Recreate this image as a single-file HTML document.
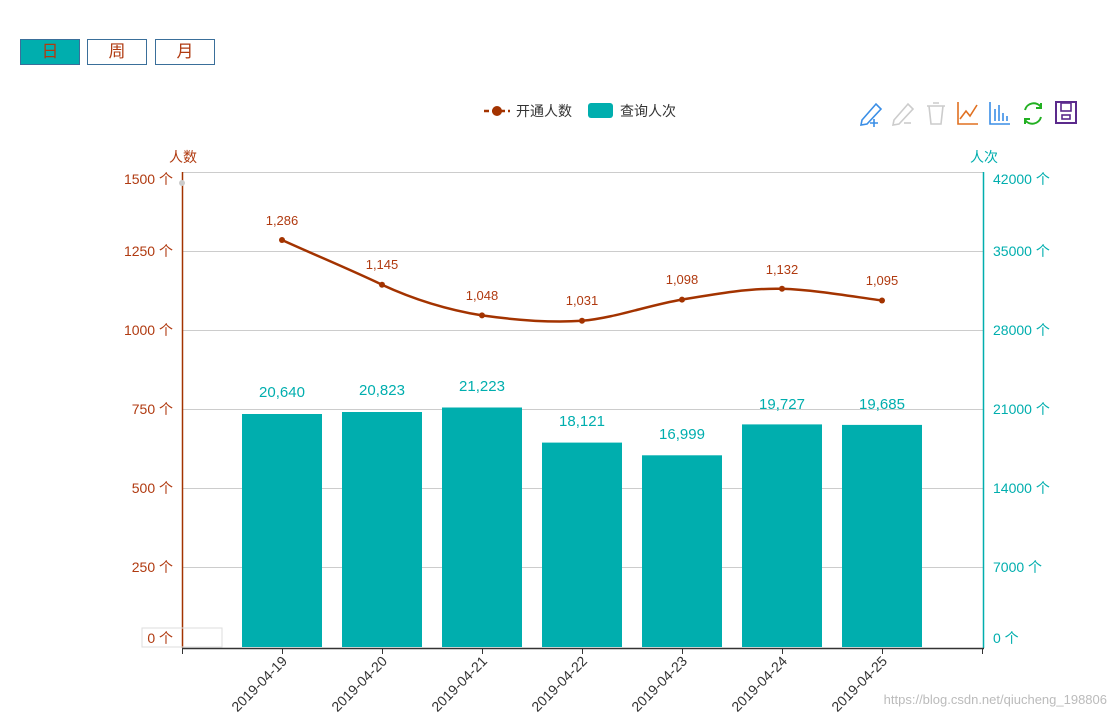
<!DOCTYPE html>
<html><head><meta charset="utf-8"><style>
body{margin:0;background:#fff;width:1117px;height:718px;overflow:hidden;font-family:"Liberation Sans","Noto Sans CJK SC",sans-serif}
.b{position:absolute;top:39px;width:60px;height:26px;border:1px solid #3a6f9a;box-sizing:border-box;color:#b03a10;text-align:center;line-height:24px;font-size:17px}
</style></head><body>
<div class="b" style="left:20px;background:#00aeae">日</div>
<div class="b" style="left:87px">周</div>
<div class="b" style="left:155px">月</div>
<svg width="1117" height="718" style="position:absolute;left:0;top:0" font-family="Liberation Sans, Noto Sans CJK SC, sans-serif">
<line x1="484" y1="111" x2="510" y2="111" stroke="#a33300" stroke-width="2.5" stroke-dasharray="5,3"/>
<circle cx="497" cy="111" r="5" fill="#a33300"/>
<text x="516" y="116" font-size="14" fill="#333">开通人数</text>
<rect x="588" y="103" width="25" height="15" rx="3" fill="#00aeae"/>
<text x="620" y="116" font-size="14" fill="#333">查询人次</text>
<g fill="none" stroke-width="1.6">
<path d="M862 120 L876 104 L881 109 L867 124 L861 125 Z" stroke="#3a8ee6"/><path d="M874 119v8M870 123h8" stroke="#3a8ee6"/>
<path d="M894 120 L908 104 L913 109 L899 124 L893 125 Z" stroke="#ccc"/><path d="M904 123h7" stroke="#ccc"/>
<path d="M927 106h18M933 103h6M929 106l2 18h10l2-18" stroke="#ccc"/>
<path d="M958 102v22h20M960 119l6-8 4 5 7-11" stroke="#e07020"/>
<path d="M990 102v22h20M995 121v-12M999 121v-16M1003 121v-8M1007 121v-5" stroke="#3a8ee6"/>
<path d="M1025 110a9 9 0 0 1 16-3M1041 117a9 9 0 0 1-16 3M1041 103v5h-5M1025 124v-5h5" stroke="#22b022" stroke-width="2"/>
<rect x="1056" y="102" width="20" height="21" stroke="#5b2a8c" stroke-width="2"/><rect x="1061" y="103" width="10" height="8" stroke="#5b2a8c"/><rect x="1062" y="115" width="8" height="4" stroke="#5b2a8c"/>
</g>
<g stroke="#ccc" stroke-width="1">
<line x1="182" y1="172.5" x2="983" y2="172.5"/><line x1="182" y1="251.5" x2="983" y2="251.5"/><line x1="182" y1="330.5" x2="983" y2="330.5"/><line x1="182" y1="409.5" x2="983" y2="409.5"/><line x1="182" y1="488.5" x2="983" y2="488.5"/><line x1="182" y1="567.5" x2="983" y2="567.5"/>
</g>
<g fill="#00aeae">
<rect x="242" y="414" width="80" height="233"/><rect x="342" y="412" width="80" height="235"/><rect x="442" y="407.5" width="80" height="239.5"/><rect x="542" y="442.6" width="80" height="204.4"/><rect x="642" y="455.3" width="80" height="191.7"/><rect x="742" y="424.4" width="80" height="222.6"/><rect x="842" y="424.9" width="80" height="222.1"/>
</g>
<g fill="#00aeae" font-size="15" text-anchor="middle">
<text x="282" y="397">20,640</text><text x="382" y="395">20,823</text><text x="482" y="391">21,223</text><text x="582" y="426">18,121</text><text x="682" y="439">16,999</text><text x="782" y="409">19,727</text><text x="882" y="409">19,685</text>
</g>
<line x1="182.5" y1="172" x2="182.5" y2="648" stroke="#a33300" stroke-width="1.5"/>
<line x1="983.5" y1="172" x2="983.5" y2="648" stroke="#00aeae" stroke-width="1.5"/>
<line x1="182" y1="648.5" x2="984" y2="648.5" stroke="#333" stroke-width="1.5"/>
<g stroke="#333"><line x1="182.5" y1="648" x2="182.5" y2="654"/><line x1="282.5" y1="648" x2="282.5" y2="654"/><line x1="382.5" y1="648" x2="382.5" y2="654"/><line x1="482.5" y1="648" x2="482.5" y2="654"/><line x1="582.5" y1="648" x2="582.5" y2="654"/><line x1="682.5" y1="648" x2="682.5" y2="654"/><line x1="782.5" y1="648" x2="782.5" y2="654"/><line x1="882.5" y1="648" x2="882.5" y2="654"/><line x1="982.5" y1="648" x2="982.5" y2="654"/></g>
<circle cx="182" cy="183" r="3" fill="#ccc"/>
<rect x="142" y="628" width="80" height="19" fill="none" stroke="#ddd"/>
<g fill="#b03a10" font-size="14" text-anchor="end">
<text x="173" y="184">1500 个</text><text x="173" y="256">1250 个</text><text x="173" y="335">1000 个</text><text x="173" y="414">750 个</text><text x="173" y="493">500 个</text><text x="173" y="572">250 个</text><text x="173" y="643">0 个</text>
</g>
<text x="183" y="162" fill="#b03a10" font-size="14" text-anchor="middle">人数</text>
<g fill="#00aeae" font-size="14">
<text x="993" y="184">42000 个</text><text x="993" y="256">35000 个</text><text x="993" y="335">28000 个</text><text x="993" y="414">21000 个</text><text x="993" y="493">14000 个</text><text x="993" y="572">7000 个</text><text x="993" y="643">0 个</text>
</g>
<text x="984" y="162" fill="#00aeae" font-size="14" text-anchor="middle">人次</text>
<g fill="#333" font-size="14" text-anchor="end">
<text transform="translate(288,662) rotate(-45)">2019-04-19</text><text transform="translate(388,662) rotate(-45)">2019-04-20</text><text transform="translate(488,662) rotate(-45)">2019-04-21</text><text transform="translate(588,662) rotate(-45)">2019-04-22</text><text transform="translate(688,662) rotate(-45)">2019-04-23</text><text transform="translate(788,662) rotate(-45)">2019-04-24</text><text transform="translate(888,662) rotate(-45)">2019-04-25</text>
</g>
<path d="M282 240 C315 255 349 269 382 284.7 C415 300 449 310 482 315.4 C515 320 549 323 582 320.8 C615 318 649 305 682 299.6 C715 294 749 288 782 288.8 C815 290 849 296 882 300.5" fill="none" stroke="#a33300" stroke-width="2.5"/>
<g fill="#a33300"><circle cx="282" cy="240" r="3"/><circle cx="382" cy="284.7" r="3"/><circle cx="482" cy="315.4" r="3"/><circle cx="582" cy="320.8" r="3"/><circle cx="682" cy="299.6" r="3"/><circle cx="782" cy="288.8" r="3"/><circle cx="882" cy="300.5" r="3"/></g>
<g fill="#b03a10" font-size="13" text-anchor="middle">
<text x="282" y="225">1,286</text><text x="382" y="269">1,145</text><text x="482" y="300">1,048</text><text x="582" y="305">1,031</text><text x="682" y="284">1,098</text><text x="782" y="274">1,132</text><text x="882" y="285">1,095</text>
</g>
<text x="1107" y="704" fill="#bbb" font-size="13" text-anchor="end">https://blog.csdn.net/qiucheng_198806</text>
</svg>
</body></html>
